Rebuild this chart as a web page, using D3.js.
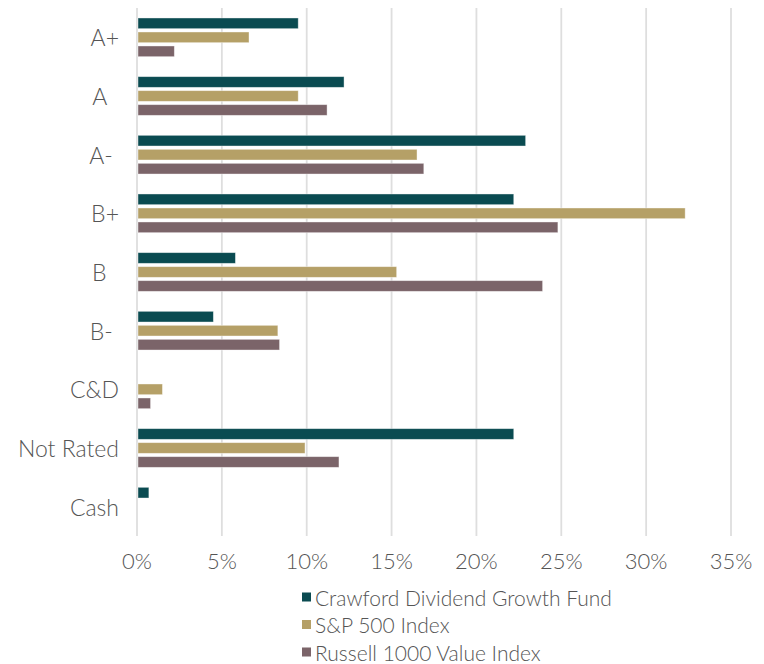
<!DOCTYPE html>
<html>
<head>
<meta charset="utf-8">
<script src="https://cdn.jsdelivr.net/npm/d3@7"></script>
<style>
  html, body { margin: 0; padding: 0; background: #fff; }
  svg { display: block; font-family: Lato, "Open Sans", sans-serif; font-weight: 300; }
  .tick-label, .cat-label, .legend-label { fill: #555555; }
</style>
</head>
<body>
<svg id="chart" width="764" height="664"></svg>
<script>
// credit quality breakdown, fund vs two benchmarks (share of holdings)
const categories = ['A+', 'A', 'A-', 'B+', 'B', 'B-', 'C&D', 'Not Rated', 'Cash'];
// trailing spaces keep the short labels lined up the way the original does
const categoryText = ['A+', 'A\u00a0\u00a0', 'A-\u00a0', 'B+', 'B\u00a0\u00a0', 'B-\u00a0', 'C&D', 'Not Rated', 'Cash'];
const seriesNames = ['Crawford Dividend Growth Fund', 'S&P 500 Index', 'Russell 1000 Value Index'];
const crawford = [9.5, 12.2, 22.9, 22.2, 5.8, 4.5, null, 22.2, 0.7];
const sp500 = [6.6, 9.5, 16.5, 32.3, 15.3, 8.3, 1.5, 9.9, null];
const russell = [2.2, 11.2, 16.9, 24.8, 23.9, 8.4, 0.8, 11.9, null];
const ticks = [0, 5, 10, 15, 20, 25, 30, 35];
const colors = ['#0a4b51', '#b5a067', '#7b6469'];

const seriesValues = [crawford, sp500, russell];

const svg = d3.select('#chart');

const x = d3.scaleLinear().domain([0, 35]).range([137, 731]);
const y = d3.scaleBand().domain(categories).range([8, 536]);
const ySub = d3.scaleBand().domain(seriesNames)
    .range([0, y.bandwidth()])
    .paddingInner(0.236)
    .paddingOuter(0.713);

// gridlines, including the one at zero
svg.append('g').selectAll('line').data(ticks).join('line')
    .attr('x1', (d) => x(d)).attr('x2', (d) => x(d))
    .attr('y1', 8).attr('y2', 536)
    .attr('stroke', '#dedede')
    .attr('stroke-width', 1.8);

svg.append('g').selectAll('text').data(ticks).join('text')
    .attr('class', 'tick-label')
    .attr('x', (d) => x(d))
    .attr('y', 560)
    .attr('text-anchor', 'middle')
    .attr('dominant-baseline', 'central')
    .attr('font-size', 22)
    .text((d) => `${d}%`);

svg.append('g').selectAll('text').data(categories).join('text')
    .attr('class', 'cat-label')
    .attr('x', 119)
    .attr('y', (d) => y(d) + y.bandwidth() / 2)
    .attr('text-anchor', 'end')
    .attr('dominant-baseline', 'central')
    .attr('font-size', 23)
    .style('white-space', 'pre')
    .text((d, i) => categoryText[i]);

// one group per series, bars skip missing values
const bars = [];
seriesValues.forEach((vals, s) => {
    categories.forEach((c, i) => {
        if (vals[i] != null) bars.push({ cat: c, series: seriesNames[s], value: vals[i], color: colors[s] });
    });
});

svg.append('g').selectAll('rect').data(bars).join('rect')
    .attr('x', x(0) + 1)
    .attr('y', (d) => y(d.cat) + ySub(d.series))
    .attr('width', (d) => x(d.value) - x(0) - 1)
    .attr('height', ySub.bandwidth())
    .attr('fill', (d) => d.color)
    .attr('stroke', '#ffffff')
    .attr('stroke-opacity', 0.5)
    .attr('stroke-width', 0.8);

const legend = svg.append('g').selectAll('g').data(seriesNames).join('g')
    .attr('transform', (d, i) => `translate(302,${597 + i * 27.5})`);
legend.append('rect')
    .attr('x', 0).attr('y', -4.5)
    .attr('width', 9).attr('height', 9)
    .attr('fill', (d, i) => colors[i]);
legend.append('text')
    .attr('class', 'legend-label')
    .attr('x', 13)
    .attr('dominant-baseline', 'central')
    .attr('font-size', 21)
    .text((d) => d);
</script>
</body>
</html>
